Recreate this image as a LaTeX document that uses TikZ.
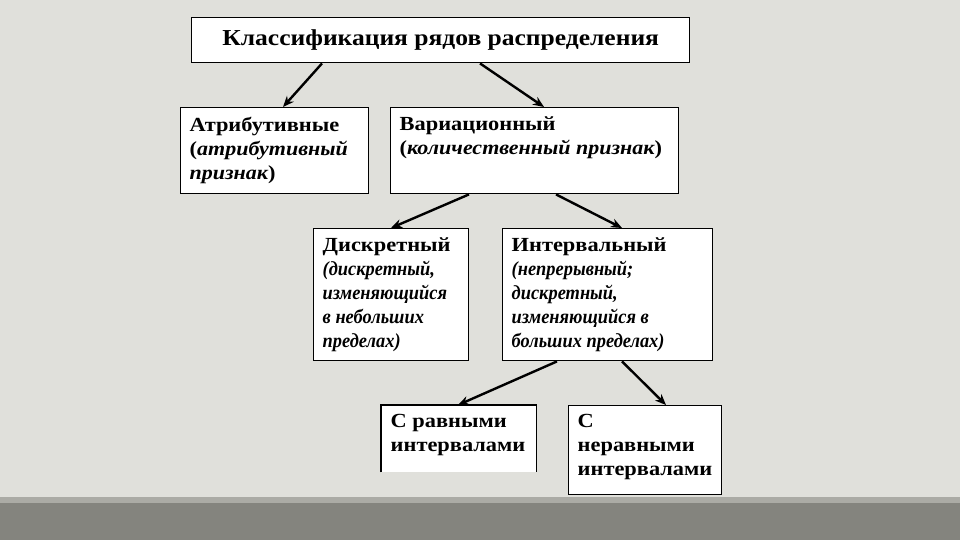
\documentclass[tikz,border=0pt]{standalone}
\usepackage{fontspec}
\setmainfont{Liberation Serif}[BoldFeatures={FakeStretch=1.12}]
\newfontfamily\shirkurs{Liberation Serif Bold Italic}[FakeStretch=1.1]
\newfontfamily\uzkurs{Liberation Serif Bold Italic}[FakeStretch=0.92]
\usetikzlibrary{arrows.meta}

\definecolor{fonsvet}{HTML}{E0E0DB}
\definecolor{fontemn}{HTML}{84847E}
\definecolor{polosa}{HTML}{ABABA5}

\tikzset{
  klass/.style={draw, fill=white, line width=1.4pt, anchor=north west,
    inner xsep=9pt, inner ysep=9pt, align=left,
    font=\fontsize{20}{24}\selectfont\bfseries},
  strelka/.style={-{Stealth[length=11pt,width=9pt]}, line width=2.4pt},
}

\begin{document}
\begin{tikzpicture}[x=1pt, y=-1pt]
  \useasboundingbox (0,0) rectangle (960,540);
  % фон слайда
  \fill[fonsvet] (0,0) rectangle (960,540);
  \fill[fontemn] (0,497) rectangle (960,540);
  \fill[polosa] (0,497) rectangle (960,503);

  \node[klass, inner sep=0pt, minimum width=498pt, minimum height=45pt,
    align=center, font=\fontsize{22.8}{26}\selectfont\bfseries] (title) at (191,17)
    {Классификация рядов распределения};

  \node[klass] (attr) at (180,107) {\begin{minipage}[t][68pt][t]{170pt}
    Атрибутивные\\
    ({\shirkurs атрибутивный}\\
    {\shirkurs признак})\end{minipage}};
  \node[klass] (var) at (390,107) {\begin{minipage}[t][68pt][t]{270pt}
    Вариационный\\
    ({\shirkurs количественный признак})\end{minipage}};

  \node[klass] (disc) at (313,228) {\begin{minipage}[t][114pt][t]{137pt}
    Дискретный\\
    {\uzkurs(дискретный,}\\
    {\uzkurs изменяющийся}\\
    {\uzkurs в небольших}\\
    {\uzkurs пределах)}\end{minipage}};
  \node[klass] (intv) at (502,228) {\begin{minipage}[t][114pt][t]{192pt}
    Интервальный\\
    {\uzkurs(непрерывный;}\\
    {\uzkurs дискретный,}\\
    {\uzkurs изменяющийся в}\\
    {\uzkurs больших пределах)}\end{minipage}};

  % у этого блока нижней линии нет
  \node[klass, draw=none] (eq) at (381,405) {\begin{minipage}[t][48pt][t]{136pt}
    С равными\\
    интервалами\end{minipage}};
  \draw[line width=1.4pt] (eq.south west) -- (eq.north west) -- (eq.north east) -- (eq.south east);
  \node[klass] (uneq) at (568,405) {\begin{minipage}[t][71pt][t]{135pt}
    С\\
    неравными\\
    интервалами\end{minipage}};

  \draw[strelka] ([xshift=131pt]title.south west) -- ([xshift=103pt]attr.north west);
  \draw[strelka] ([xshift=289pt]title.south west) -- ([xshift=154pt]var.north west);
  \draw[strelka] ([xshift=79pt]var.south west) -- ([xshift=78pt]disc.north west);
  \draw[strelka] ([xshift=166pt]var.south west) -- ([xshift=120pt]intv.north west);
  \draw[strelka] ([xshift=55pt]intv.south west) -- ([xshift=77pt]eq.north west);
  \draw[strelka] ([xshift=120pt]intv.south west) -- ([xshift=98pt]uneq.north west);
\end{tikzpicture}
\end{document}
